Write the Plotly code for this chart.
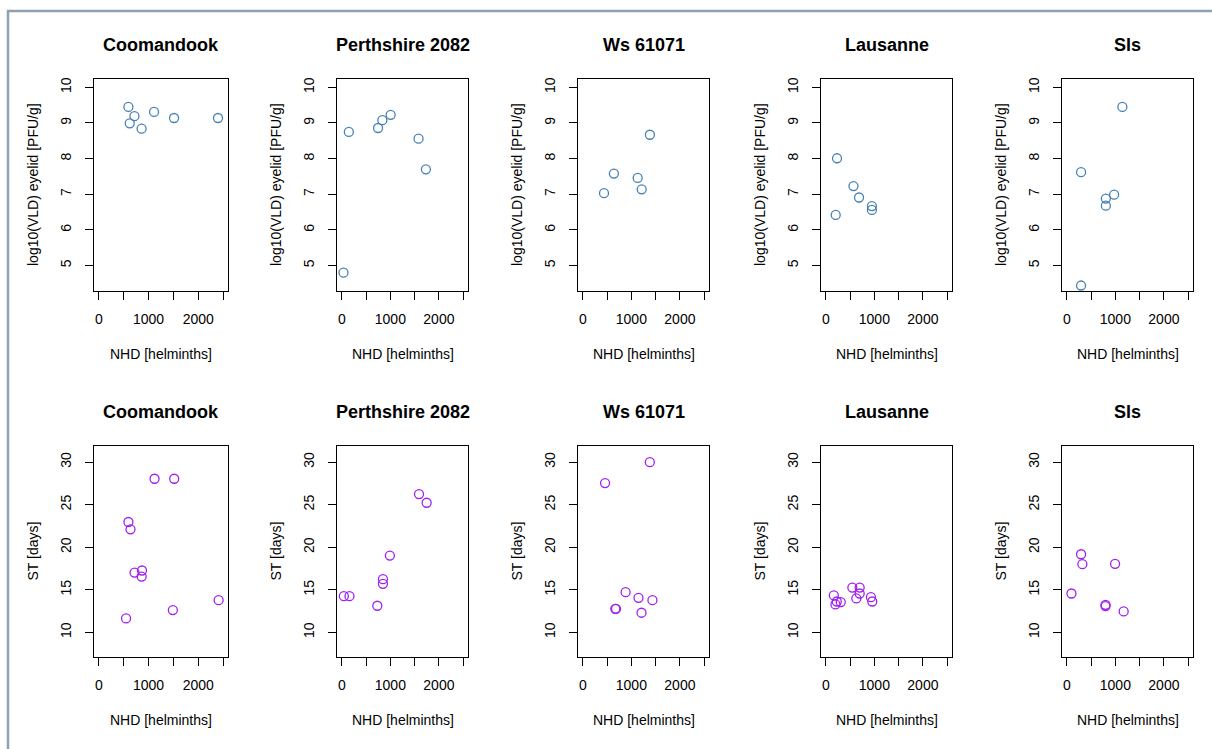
import plotly.graph_objects as go

W, H = 1212, 749

strains = ["Coomandook", "Perthshire 2082", "Ws 61071", "Lausanne", "Sls"]

# Top row: NHD vs log10(VLD) eyelid
nhd_vld = [
    [593, 620, 715, 859, 1110, 1513, 2399],
    [34, 144, 746, 835, 1006, 1581, 1732],
    [436, 640, 1130, 1212, 1382],
    [230, 203, 569, 684, 949, 949],
    [1144, 293, 804, 804, 974, 293],
]
vld = [
    [9.45, 8.99, 9.19, 8.84, 9.31, 9.14, 9.14],
    [4.80, 8.75, 8.86, 9.08, 9.23, 8.56, 7.70],
    [7.03, 7.58, 7.46, 7.14, 8.67],
    [8.01, 6.42, 7.23, 6.91, 6.67, 6.56],
    [9.45, 7.62, 6.88, 6.68, 6.99, 4.44],
]

# Bottom row: NHD vs ST
nhd_st = [
    [1120, 1516, 594, 635, 717, 867, 860, 546, 1489, 2411],
    [41, 157, 731, 847, 847, 990, 1591, 1748],
    [458, 1380, 881, 1147, 1434, 1209, 669, 683],
    [164, 198, 225, 307, 546, 697, 697, 628, 929, 956],
    [95, 293, 320, 994, 797, 797, 1171],
]
st = [
    [28.05, 28.05, 22.97, 22.11, 17.03, 17.27, 16.56, 11.64, 12.62, 13.79],
    [14.26, 14.26, 13.13, 16.25, 15.70, 19.02, 26.25, 25.23],
    [27.54, 30.0, 14.73, 14.06, 13.79, 12.31, 12.77, 12.77],
    [14.34, 13.28, 13.63, 13.56, 15.27, 15.27, 14.57, 13.99, 14.14, 13.63],
    [14.57, 19.18, 18.01, 18.05, 13.24, 13.09, 12.46],
]

x_ticks = [0, 500, 1000, 1500, 2000, 2500]
x_ticktext = ["0", "", "1000", "", "2000", ""]
vld_ticks = [5, 6, 7, 8, 9, 10]
st_ticks = [10, 15, 20, 25, 30]

x_title = "NHD [helminths]"
vld_title = "log10(VLD) eyelid [PFU/g]"
st_title = "ST [days]"

FONT = "Liberation Sans, Arial, sans-serif"

# layout geometry (pixels)
lefts = [94, 337, 578, 821, 1062]
rights = [228, 468, 709, 952, 1193]
rows = [(77, 290), (445, 657)]

fig = go.Figure()

def px_x(p):
    return p / W

def px_y(p):
    return 1 - p / H

annotations = []
idx = 0
for r, (top, bot) in enumerate(rows):
    for c in range(5):
        idx += 1
        xa = "xaxis" if idx == 1 else f"xaxis{idx}"
        ya = "yaxis" if idx == 1 else f"yaxis{idx}"
        xr = "x" if idx == 1 else f"x{idx}"
        yr = "y" if idx == 1 else f"y{idx}"
        if r == 0:
            xs, ys, color = nhd_vld[c], vld[c], "#4682B4"
            yticks, yrange, ytitle = vld_ticks, [4.28, 10.24], vld_title
        else:
            xs, ys, color = nhd_st[c], st[c], "#A020F0"
            yticks, yrange, ytitle = st_ticks, [7.08, 31.92], st_title
        fig.add_trace(go.Scatter(
            x=xs, y=ys, mode="markers", xaxis=xr, yaxis=yr, showlegend=False,
            hoverinfo="skip",
            marker=dict(symbol="circle-open", size=9, color=color,
                        line=dict(width=1.3, color=color)),
        ))
        fig.layout[xa] = dict(
            domain=[px_x(lefts[c]), px_x(rights[c])], anchor=yr,
            range=[-100, 2600], tickvals=x_ticks, ticktext=x_ticktext,
            ticks="outside", ticklen=8, tickwidth=1, tickcolor="black",
            showline=True, linecolor="black", linewidth=1, mirror=True,
            showgrid=False, zeroline=False, ticklabelstandoff=7,
            tickfont=dict(family=FONT, size=14, color="black"),
        )
        fig.layout[ya] = dict(
            domain=[px_y(bot), px_y(top)], anchor=xr,
            range=yrange, tickvals=yticks, tickangle=-90,
            ticks="outside", ticklen=8, tickwidth=1, tickcolor="black",
            showline=True, linecolor="black", linewidth=1, mirror=True,
            showgrid=False, zeroline=False, ticklabelstandoff=8,
            tickfont=dict(family=FONT, size=14, color="black"),
        )
        cx = (lefts[c] + rights[c]) / 2
        cy = (top + bot) / 2
        # panel title
        annotations.append(dict(
            text=f"<b>{strains[c]}</b>", xref="paper", yref="paper",
            x=px_x(cx), y=px_y(top - 34), showarrow=False,
            xanchor="center", yanchor="middle",
            font=dict(family=FONT, size=18, color="black"),
        ))
        # x title
        annotations.append(dict(
            text=x_title, xref="paper", yref="paper",
            x=px_x(cx), y=px_y(bot + 63), showarrow=False,
            xanchor="center", yanchor="middle",
            font=dict(family=FONT, size=14, color="black"),
        ))
        # y title
        annotations.append(dict(
            text=ytitle, xref="paper", yref="paper", textangle=-90,
            x=px_x(lefts[c] - 61), y=px_y(cy), showarrow=False,
            xanchor="center", yanchor="middle",
            font=dict(family=FONT, size=14, color="black"),
        ))

shapes = [
    dict(type="line", xref="paper", yref="paper", x0=px_x(8), x1=px_x(8),
         y0=px_y(8), y1=0, line=dict(color="#8DA1B1", width=2.5)),
    dict(type="line", xref="paper", yref="paper", x0=px_x(7), x1=1,
         y0=px_y(9), y1=px_y(9), line=dict(color="#8DA1B1", width=2.5)),
]

fig.update_layout(
    width=W, height=H, margin=dict(l=0, r=0, t=0, b=0),
    paper_bgcolor="white", plot_bgcolor="white",
    annotations=annotations, shapes=shapes,
    font=dict(family=FONT, size=14, color="black"),
)

fig.write_html(
    "out.html",
    config={"displayModeBar": False},
    post_script="document.body.style.margin='0';document.body.style.padding='0';",
)
